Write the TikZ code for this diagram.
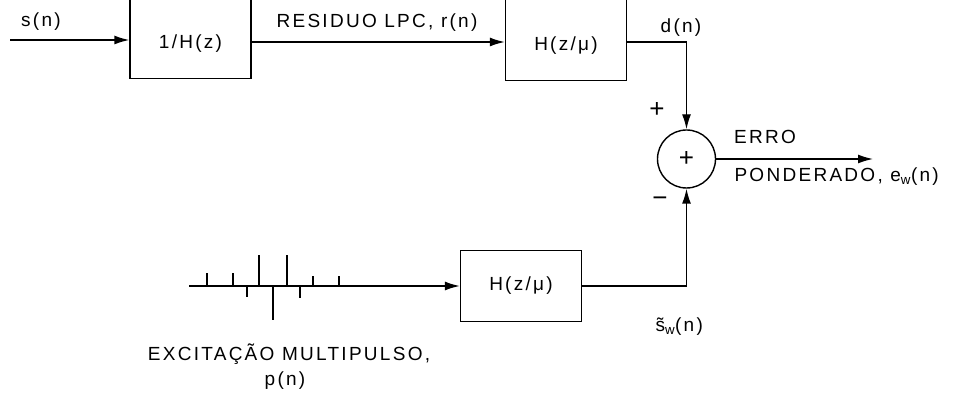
\documentclass[tikz,border=0pt]{standalone}
\usepackage{fontspec}
\setmainfont{Liberation Sans}[LetterSpace=12]
\usetikzlibrary{positioning, arrows.meta}
\tikzset{>={Latex[length=15pt,width=9pt]}, x=1pt, y=-1pt,
every node/.style={font=\fontsize{19}{21}\selectfont},
wire/.style={line width=1.4pt},
sign/.style={font=\fontsize{26}{28}\selectfont},
block/.style={draw, line width=1.4pt, minimum width=121pt, minimum height=71pt, inner sep=0pt},
cutblock/.style={block, anchor=south, text height=72pt, text depth=6pt, inner ysep=24pt},
sumnode/.style={draw, circle, line width=1.4pt, minimum size=58pt, inner sep=0pt, sign},
}
\begin{document}
\begin{tikzpicture}
	\useasboundingbox (0,0) rectangle (956,395);
	% blocks
	\node[cutblock] (inv) at (190.5,79) {1/H(z)};
	\node[cutblock] (wz) at (566,81) {H(z/μ)};
	\node[block] (wzb) at (521,286) {H(z/μ)};
	\node[sumnode] (sum) at (686.5,159) {+};
	\coordinate (sin) at (10,40);
	\coordinate (row) at (0,42);
	\coordinate (ew) at (873,159);
	\coordinate (p0) at (189,286);
	% connectors
	\draw[wire,->] (sin) -- (inv.west |- sin);
	\draw[wire,->] (inv.east |- row) -- (wz.west |- row);
	\draw[wire,->] (wz.east |- row) -| (sum.north);
	\draw[wire,->] (sum.east) -- (ew);
	\draw[wire,->] (wzb.east) -| (sum.south);
	\draw[wire,->] (p0) -- (wzb.west |- p0);
	% pulses
	\foreach \x/\h in {207/13, 233/13, 247/-11, 259/31, 273/-34, 287/31, 300/-12, 313/10, 339/10}
		\draw[line width=1.2pt] (\x,286) -- ++(0,-\h);
	% labels
	\node[anchor=base] (lsn) at (41,27) {s(n)};
	\node[anchor=base] (lres) at (377,28) {RESIDUO LPC, r(n)};
	\node[anchor=base] (ldn) at (681,33) {d(n)};
	\node[sign] (lplus) at (657,110) {+};
	\node[sign] (lminus) at (660,202) {−};
	\node[anchor=base] (lerro) at (765,144) {ERRO};
	\node[anchor=base west] (lpond) at (731,182) {PONDERADO, e\textsubscript{w}(n)};
	\node[anchor=base west] (lsw) at (652,332) {\~{s}\textsubscript{w}(n)};
	\node[anchor=base] (lexc) at (289,360) {EXCITAÇÃO MULTIPULSO,};
	\node[anchor=base] (lpn) at (285,385) {p(n)};
\end{tikzpicture}
\end{document}
